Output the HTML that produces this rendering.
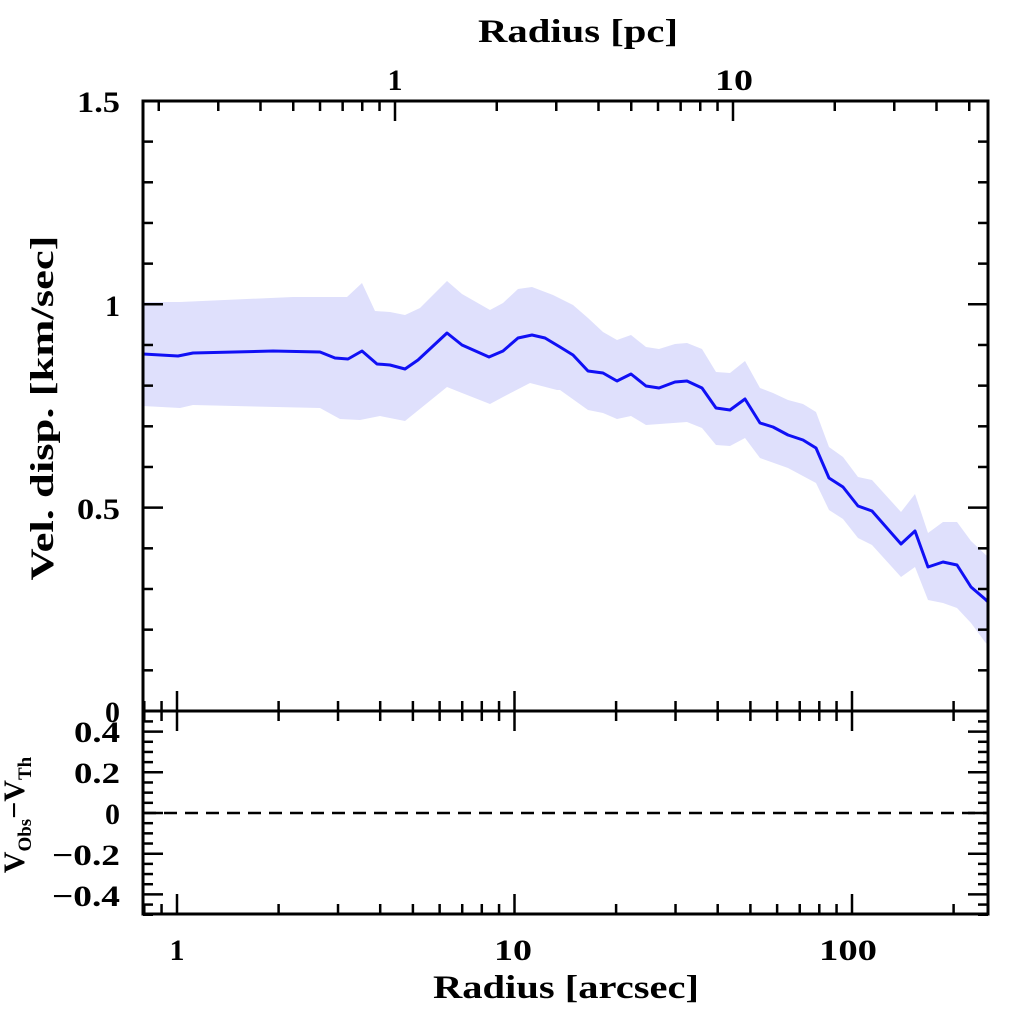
<!DOCTYPE html>
<html><head><meta charset="utf-8"><style>
html,body{margin:0;padding:0;background:#fff;}
svg{display:block;}
text{font-family:"Liberation Serif",serif;font-weight:bold;fill:#000;}
</style></head><body>
<svg id="s" width="1024" height="1024" viewBox="0 0 1024 1024" xmlns="http://www.w3.org/2000/svg">
<polygon fill="#dfe0fc" points="143,302 180,302 293,297 347,297 362,283 375,311 390,312 405,315 420,308 447,281 462,294 490,310 503,303 518,289 532,287 553,295 573,305 588,318 603,332 617,340 631,335 646,347 659,349 675,344 687,343 702,349 716,372 730,373 745,361 760,388 773,393 788,400 803,404 816,412 829,447 843,457 858,477 872,480 901,512 915,494 928,533 943,522 957,522 971,541 988,557 988,645 985,642 971,623 957,608 943,603 928,600 915,567 901,577 872,545 858,538 843,519 829,510 816,483 788,468 760,458 745,438 730,446 716,445 702,428 687,422 646,425 631,416 617,419 603,413 588,410 560,390 557,390 530,383 503,397 490,404 462,393 447,387 405,421 380,416 360,420 340,419 320,408 193,405 180,408 143,406"/>
<polyline fill="none" stroke="#1010f5" stroke-width="3" stroke-linejoin="round" points="143,354 178,356 193,353 273,351 320,352 335,358 348,359 362,351 377,364 390,365 405,369 418,360 447,333 462,345 489,357 503,351 518,338 532,335 545,338 560,347 573,355 588,371 603,373 617,381 631,374 646,386 659,388 675,382 687,381 702,388 716,408 730,410 745,399 760,423 773,427 788,435 803,440 816,448 829,478 843,487 858,506 872,511 901,544 915,531 928,567 943,562 957,565 971,587 985,599 988,602"/>
<line x1="143" y1="813" x2="988" y2="813" stroke="#000" stroke-width="2.5" stroke-dasharray="13,8"/>
<g id="ticks" stroke="#000" stroke-width="2.5" fill="none"></g>
<rect x="143" y="101" width="845" height="813" fill="none" stroke="#000" stroke-width="3"/>
<line x1="143" y1="711" x2="988" y2="711" stroke="#000" stroke-width="3"/>
<g font-size="30">
<text x="395" y="90" text-anchor="middle">1</text>
<text x="734" y="90" text-anchor="middle" textLength="38" lengthAdjust="spacingAndGlyphs">10</text>
<text x="177" y="960" text-anchor="middle">1</text>
<text x="513" y="960" text-anchor="middle" textLength="38" lengthAdjust="spacingAndGlyphs">10</text>
<text x="848" y="960" text-anchor="middle" textLength="58" lengthAdjust="spacingAndGlyphs">100</text>
<text x="120" y="112" text-anchor="end" textLength="43" lengthAdjust="spacingAndGlyphs">1.5</text>
<text x="120" y="316" text-anchor="end">1</text>
<text x="120" y="519" text-anchor="end" textLength="43" lengthAdjust="spacingAndGlyphs">0.5</text>
<text x="120" y="722" text-anchor="end">0</text>
<text x="120" y="742" text-anchor="end" textLength="46" lengthAdjust="spacingAndGlyphs">0.4</text>
<text x="120" y="783" text-anchor="end" textLength="46" lengthAdjust="spacingAndGlyphs">0.2</text>
<text x="120" y="824" text-anchor="end">0</text>
<text x="120" y="865" text-anchor="end" textLength="68" lengthAdjust="spacingAndGlyphs">−0.2</text>
<text x="120" y="906" text-anchor="end" textLength="68" lengthAdjust="spacingAndGlyphs">−0.4</text>
</g>
<g font-size="33">
<text x="578" y="42" text-anchor="middle" textLength="200" lengthAdjust="spacingAndGlyphs">Radius [pc]</text>
<text x="566" y="998" text-anchor="middle" textLength="266" lengthAdjust="spacingAndGlyphs">Radius [arcsec]</text>
<text transform="translate(53,408) rotate(-90)" text-anchor="middle" textLength="345" lengthAdjust="spacingAndGlyphs">Vel. disp. [km/sec]</text>
</g>
<text font-size="30" transform="translate(24,815) rotate(-90)" text-anchor="middle">V<tspan font-size="19" dy="7">Obs</tspan><tspan dy="-7">−V</tspan><tspan font-size="19" dy="7">Th</tspan></text>
</svg>
<script>
var g=document.getElementById('ticks'),L=143,R=988,T=101,M=711,B=914;
function ln(a,b,c,d){var e=document.createElementNS('http://www.w3.org/2000/svg','line');e.setAttribute('x1',a);e.setAttribute('y1',b);e.setAttribute('x2',c);e.setAttribute('y2',d);g.appendChild(e);}
function X(v){return 177+337.5*Math.log10(v);}
function P(v){return 395+338*Math.log10(v);}
[0.1,1,10,100].forEach(function(d){for(var k=1;k<10;k++){var v=d*k,x=X(v);if(x<L+1||x>R-1)continue;var len=k==1?20:10;ln(x,B,x,B-len);ln(x,M,x,M-len);ln(x,M,x,M+len);}});
[0.1,1,10].forEach(function(d){for(var k=1;k<10;k++){var v=d*k,x=P(v);if(x<L+1||x>R-1)continue;var len=k==1?20:10;ln(x,T,x,T+len);}});
for(var i=0;i<=15;i++){var y=M-i*0.1*406.7;var len=(i%5==0)?20:10;ln(L,y,L+len,y);ln(R,y,R-len,y);}
for(var i=-10;i<=10;i++){var y=813-i*0.05*203.5;var len=(i%4==0)?20:10;ln(L,y,L+len,y);ln(R,y,R-len,y);}
</script>
</body></html>
